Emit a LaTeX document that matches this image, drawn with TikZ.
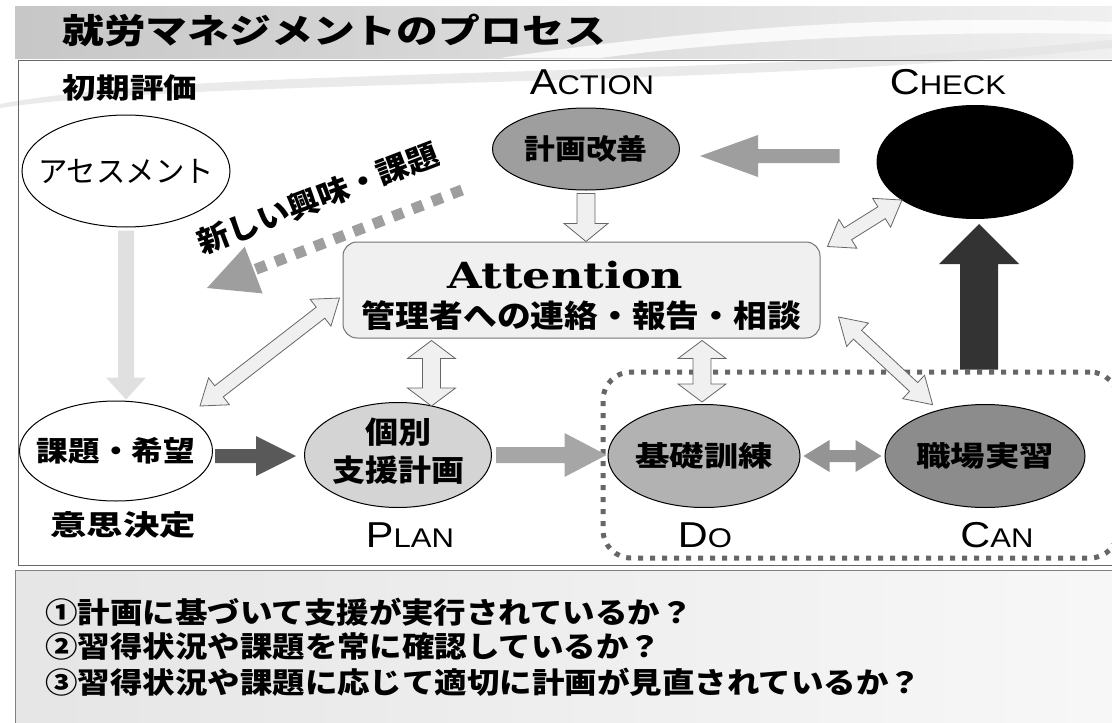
\documentclass[tikz,border=0pt]{standalone}
\usepackage{fontspec}
\usepackage{graphicx}
\usetikzlibrary{shapes.geometric,calc}
\newfontfamily\jp{Noto Sans CJK JP}
\newfontfamily\lsans{Liberation Sans}
\newfontfamily\dserif{DejaVu Serif}
\newcommand\pcaps[2]{\scalebox{1.15}[1]{{\fontsize{36}{36}\selectfont #1}{\fontsize{27}{27}\selectfont #2}}}
\newcommand\sx[2]{\scalebox{#1}[1]{#2}}
\newcommand\zw[1]{\makebox[0pt]{#1}}
% single block arrow: style, from, to, half shaft, half head, head length
\newcommand\blockarr[6]{%
 \path[#1] let \p1=(#2), \p2=(#3), \n1={atan2(\y2-\y1,\x2-\x1)}, \n2={veclen(\x2-\x1,\y2-\y1)} in
 [shift={(\p1)}, rotate=\n1] (0pt,-#4pt) -- ({\n2-#6pt},-#4pt) -- ({\n2-#6pt},-#5pt) -- ({\n2+0pt},0pt) -- ({\n2-#6pt},#5pt) -- ({\n2-#6pt},#4pt) -- (0pt,#4pt) -- cycle;}
% double block arrow
\newcommand\dblarr[6]{%
 \path[#1] let \p1=(#2), \p2=(#3), \n1={atan2(\y2-\y1,\x2-\x1)}, \n2={veclen(\x2-\x1,\y2-\y1)} in
 [shift={(\p1)}, rotate=\n1] (0pt,0pt) -- (#6pt,#5pt) -- (#6pt,#4pt) -- ({\n2-#6pt},#4pt) -- ({\n2-#6pt},#5pt) -- ({\n2+0pt},0pt) -- ({\n2-#6pt},-#5pt) -- ({\n2-#6pt},-#4pt) -- (#6pt,-#4pt) -- (#6pt,-#5pt) -- cycle;}
\tikzset{
 ell/.style={ellipse, draw=black, line width=1pt, inner sep=0pt,
   font=\jp\bfseries\fontsize{28}{34}\selectfont},
 lbl/.style={font=\lsans, inner sep=0pt},
 jlbl/.style={font=\jp\bfseries\fontsize{28}{30}\selectfont, inner sep=0pt},
 qline/.style={anchor=west, font=\jp\bfseries\fontsize{29}{31}\selectfont, inner sep=0pt},
 hollow/.style={fill=black!6, draw=black!60, line width=0.8pt},
 attbox/.style={rectangle, rounded corners=14pt, fill=black!6, draw=black!55, line width=1pt,
   minimum width=477pt, minimum height=96pt, inner sep=0pt},
 dobox/.style={rectangle, rounded corners=28pt, draw=black!60, line width=5pt,
   dash pattern=on 5pt off 7pt, minimum width=515pt, minimum height=186pt},
}
\begin{document}
\begin{tikzpicture}[x=1pt,y=-1pt]
\useasboundingbox (0,0) rectangle (1112,723);
\clip (0,0) rectangle (1112,723);
\fill[white] (0,0) rectangle (1112,723);
% header band
\shade[left color=black!22, right color=black!6] (15,6) rectangle (1112,58);
\fill[white, opacity=0.8] (500,58) .. controls (700,28) and (900,14) .. (1112,22) -- (1112,34) .. controls (900,30) and (720,42) .. (600,58) -- cycle;
\fill[black!10, opacity=0.8] (0,104) .. controls (200,66) and (700,80) .. (1112,40) -- (1112,48) .. controls (700,90) and (200,78) .. (0,108) -- cycle;
% frames
\draw[black!60, line width=1pt] (18,60) rectangle (1120,565);
\shade[left color=black!10, right color=black!3, draw=black!50, line width=1pt] (15,570) rectangle (1120,730);
% title and labels
\node[jlbl, anchor=west, font=\jp\bfseries\fontsize{34}{36}\selectfont] (title) at (62,30) {\sx{1.23}{就労マネジメントのプロセス}};
\node[jlbl] (shoki) at (130,88) {\sx{1.2}{初期評価}};
\node[lbl] (action) at (592,82) {\pcaps{A}{CTION}};
\node[lbl] (checkl) at (948,82) {\pcaps{C}{HECK}};
% nodes
\node[ell, fill=white, minimum width=208pt, minimum height=112pt, font=\jp\fontsize{30}{32}\selectfont] (asmt) at (126,171) {\zw{\sx{0.98}{アセスメント}}};
\node[ell, fill=black!38, minimum width=187pt, minimum height=82pt] (kaizen) at (586,149) {\zw{\sx{1.1}{計画改善}}};
\node[ell, fill=black, minimum width=196pt, minimum height=113pt] (check) at (975,162) {};
\node[attbox] (att) at (581.5,290) {};
\node[inner sep=0pt, font=\dserif\bfseries\fontsize{36}{40}\selectfont] (attT) at ($(att.center)+(-16,-15)$) {\sx{1.24}{Attention}};
\node[inner sep=0pt, font=\jp\bfseries\fontsize{31}{34}\selectfont] (attS) at ($(att.center)+(0,26)$) {\sx{1.09}{管理者への連絡・報告・相談}};
\node[ell, fill=white, minimum width=193pt, minimum height=100pt] (kadai) at (116,451) {\zw{\sx{1.13}{課題・希望}}};
\node[jlbl] (ishi) at (123,525) {\sx{1.3}{意思決定}};
\node[ell, fill=black!17, minimum width=187pt, minimum height=105pt, font=\jp\bfseries\fontsize{30}{34}\selectfont] (kobetsu) at (398,455) {\zw{\sx{1.1}{\begin{tabular}{@{}c@{}}個別\\[2pt]支援計画\end{tabular}}}};
\node[lbl] (plan) at (410,535) {\pcaps{P}{LAN}};
\node[dobox] (dobox) at (860.5,465) {};
\node[ell, fill=black!30, minimum width=192pt, minimum height=103pt] (kiso) at (704,456) {\zw{\sx{1.23}{基礎訓練}}};
\node[ell, fill=black!45, minimum width=200pt, minimum height=103pt] (shoku) at (985,456) {\zw{\sx{1.23}{職場実習}}};
\node[lbl] (do) at (705,535) {\pcaps{D}{O}};
\node[lbl] (can) at (997,535) {\pcaps{C}{AN}};
\node[jlbl, rotate=21, font=\jp\bfseries\fontsize{30}{32}\selectfont] (shinki) at (318,198) {\sx{1.07}{新しい興味・課題}};
% questions
\node[qline] (q1) at (45,612) {\sx{1.12}{①計画に基づいて支援が実行されているか？}};
\node[qline] (q2) at (45,647) {\sx{1.12}{②習得状況や課題を常に確認しているか？}};
\node[qline] (q3) at (45,682) {\sx{1.12}{③習得状況や課題に応じて適切に計画が見直されているか？}};
% arrows
\blockarr{fill=black!12}{$(asmt.south)+(0,3)$}{$(asmt.south |- kadai.north)+(0,-1)$}{8}{20}{22}
\coordinate (dotS) at (462,190);
\coordinate (dotT) at (207,288);
\coordinate (dotH) at ($(dotT)!50pt!(dotS)$);
\draw[black!38, line width=11pt, dash pattern=on 11pt off 10pt] (dotS) -- (dotH);
\blockarr{fill=black!38}{dotH}{dotT}{0}{25}{50}
\blockarr{fill=black!38}{$(check.west)+(-37,-6)$}{$(kaizen.east)+(20,7)$}{7}{21}{58}
\blockarr{hollow}{$(kaizen.south)+(0,3)$}{$(kaizen.south |- att.north)$}{9}{22}{18}
\coordinate (a1) at ($(att.south west)+(89,0)$);
\dblarr{hollow}{$(a1)+(0,2)$}{$(a1 |- kobetsu.north)+(0,4)$}{9}{24}{18}
\dblarr{hollow}{$(att.south -| kiso.north)+(-2,2)$}{$(kiso.north)+(-2,-2)$}{9}{24}{18}
\dblarr{hollow}{$(att.west)+(-3,8)$}{$(kadai.center)+(84,-45)$}{7}{17}{24}
\dblarr{hollow}{$(att.north east)+(7,5)$}{$(check.center)+(-73,38)$}{7}{17}{24}
\dblarr{hollow}{$(att.east)+(18,27)$}{$(shoku.center)+(-52,-51)$}{6}{16}{26}
\blockarr{fill=black!65}{$(kadai.east)+(2,5)$}{$(kobetsu.west)+(-8,1)$}{7}{20}{40}
\blockarr{fill=black!35}{$(kobetsu.east)+(4,0)$}{$(kiso.west |- kobetsu.east)+(-1,0)$}{8}{22}{42}
\dblarr{fill=black!42}{$(kiso.east)+(3,0)$}{$(shoku.west)+(-3,0)$}{6}{16}{26}
\blockarr{fill=black!80}{$(check.south |- dobox.north)+(4,0)$}{$(check.south)+(4,5)$}{19}{40}{40}
\end{tikzpicture}
\end{document}
